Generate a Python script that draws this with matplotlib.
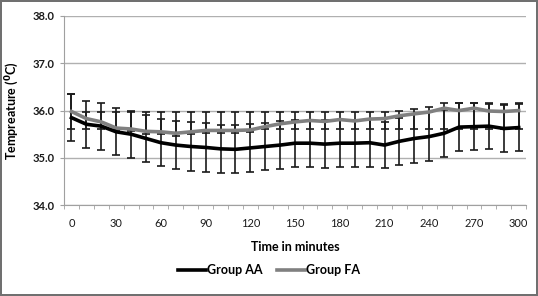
import numpy as np
import matplotlib
matplotlib.use("Agg")
import matplotlib.pyplot as plt

plt.rcParams['font.family'] = ['Lato', 'DejaVu Sans']

# time points (minutes)
times = [0, 10, 20, 30, 40, 50, 60, 70, 80, 90, 100, 110, 120, 130, 140, 150,
         160, 170, 180, 190, 200, 210, 220, 230, 240, 250, 260, 270, 280, 290, 300]

# Group AA mean temperature and SD
group_aa = [35.85, 35.71, 35.67, 35.55, 35.50, 35.41, 35.32, 35.27, 35.24, 35.22, 35.19,
            35.18, 35.21, 35.24, 35.27, 35.31, 35.31, 35.29, 35.31, 35.31, 35.32, 35.27,
            35.35, 35.41, 35.45, 35.52, 35.65, 35.66, 35.67, 35.62, 35.64]
aa_sd = [0.50, 0.50, 0.50, 0.50, 0.50, 0.49, 0.50, 0.50, 0.51, 0.51, 0.51, 0.51, 0.50,
         0.50, 0.50, 0.50, 0.50, 0.50, 0.50, 0.50, 0.51, 0.49, 0.50, 0.52, 0.51, 0.50,
         0.51, 0.50, 0.49, 0.50, 0.50]

# Group FA mean temperature and error (lower / upper)
group_fa = [35.98, 35.83, 35.76, 35.63, 35.61, 35.56, 35.55, 35.52, 35.55, 35.58, 35.58,
            35.58, 35.59, 35.66, 35.72, 35.76, 35.79, 35.77, 35.81, 35.78, 35.82, 35.83,
            35.89, 35.93, 35.97, 36.05, 36.00, 36.05, 35.99, 35.98, 36.00]
fa_lo = [0.38, 0.23, 0.16, 0.05, 0.05, 0.05, 0.05, 0.05, 0.05, 0.05, 0.05, 0.05, 0.05,
         0.06, 0.12, 0.16, 0.19, 0.17, 0.21, 0.18, 0.22, 0.23, 0.29, 0.33, 0.37, 0.43,
         0.38, 0.43, 0.37, 0.36, 0.38]
fa_hi = [0.38, 0.13, 0.20, 0.33, 0.35, 0.40, 0.41, 0.44, 0.41, 0.38, 0.38, 0.38, 0.37,
         0.30, 0.24, 0.20, 0.17, 0.19, 0.15, 0.18, 0.14, 0.13, 0.10, 0.10, 0.10, 0.10,
         0.15, 0.12, 0.15, 0.15, 0.15]

xtick_labels = [0, 30, 60, 90, 120, 150, 180, 210, 240, 270, 300]
yticks = [34.0, 35.0, 36.0, 37.0, 38.0]

fig = plt.figure(figsize=(5.38, 2.96), dpi=100)
fig.patch.set_edgecolor('#707070')
fig.patch.set_linewidth(1.6)
ax = fig.add_axes([0.119, 0.307, 0.859, 0.639])

ax.errorbar(times, group_fa, yerr=[fa_lo, fa_hi], fmt='none', ecolor='#1a1a1a',
            elinewidth=1.2, capsize=3, capthick=1.2, zorder=2)
ax.errorbar(times, group_aa, yerr=aa_sd, fmt='none', ecolor='#1a1a1a',
            elinewidth=1.2, capsize=3, capthick=1.2, zorder=2)
ax.plot(times, group_fa, color='#808080', lw=2.6, label='Group FA', zorder=3)
ax.plot(times, group_aa, color='black', lw=2.6, label='Group AA', zorder=4)

ax.set_xlim(-5, 305)
ax.set_ylim(34, 38)
ax.set_yticks(yticks)
ax.set_yticklabels(['%.1f' % v for v in yticks], fontweight='bold', fontsize=8, color='#1a1a1a')
ax.set_xticks(xtick_labels)
ax.set_xticklabels([str(v) for v in xtick_labels], fontsize=8, color='#1a1a1a')
ax.set_xticks(np.arange(-5, 306, 10), minor=True)
ax.tick_params(axis='x', which='major', length=0, pad=9)
ax.tick_params(axis='x', which='minor', length=3, color='#a0a0a0', direction='out')
ax.tick_params(axis='y', length=3, color='#a0a0a0', pad=4)

ax.grid(axis='y', color='#b0b0b0', lw=1)
ax.set_axisbelow(True)
for s in ['top', 'right']:
    ax.spines[s].set_visible(False)
ax.spines['left'].set_color('#a0a0a0')
ax.spines['bottom'].set_color('#a0a0a0')

ax.set_xlabel('Time in minutes', fontweight='bold', fontsize=9, labelpad=9)
ax.set_ylabel(r'Tempreature ($\mathbf{^{0}}$C)', fontweight='bold', fontsize=9, labelpad=8)

handles, labels = ax.get_legend_handles_labels()
fig.legend(handles[::-1], labels[::-1], loc='center', bbox_to_anchor=(0.5, 0.088),
           ncol=2, frameon=False, handlelength=2.2, handletextpad=0.1, columnspacing=1.2,
           prop={'weight': 'bold', 'size': 9})

fig.savefig('out.png', dpi=100, edgecolor=fig.get_edgecolor())
